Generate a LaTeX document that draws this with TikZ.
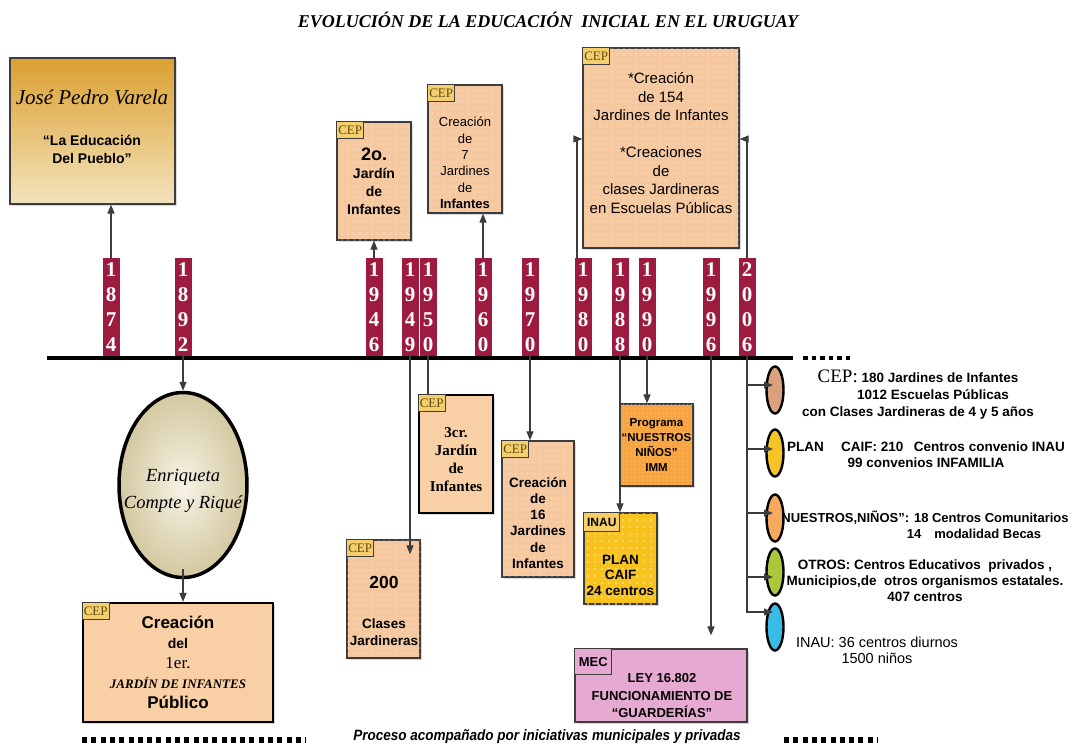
\documentclass[tikz,border=0pt]{standalone}
\usepackage{fontspec}
\setmainfont{Liberation Sans}
\newfontfamily\timesfont{Liberation Serif}
\newfontfamily\narrowfont[FakeStretch=0.9]{Liberation Sans}
\usetikzlibrary{positioning,calc,shapes.geometric,arrows.meta,shadows,patterns.meta}

\definecolor{yearred}{HTML}{9C1B3F}
\definecolor{peach}{HTML}{F6C8A0}
\definecolor{peachlight}{HTML}{F9CFA5}
\definecolor{ceptag}{HTML}{F4CF6C}
\definecolor{cepink}{HTML}{5C4A18}
\definecolor{jpvgold}{HTML}{DBA031}
\definecolor{jpvpale}{HTML}{F3E3BC}
\definecolor{caifgold}{HTML}{F8C21F}
\definecolor{caiftag}{HTML}{F7CF66}
\definecolor{nnorange}{HTML}{F7A543}
\definecolor{mecpink}{HTML}{E6A9D2}
\definecolor{eggin}{HTML}{F7F3E6}
\definecolor{eggout}{HTML}{D3C8A0}
\definecolor{ovtan}{HTML}{D9A27C}
\definecolor{ovyellow}{HTML}{F5C527}
\definecolor{ovorange}{HTML}{F7A95E}
\definecolor{ovgreen}{HTML}{A9C93A}
\definecolor{ovblue}{HTML}{38BCE6}
\definecolor{edgegray}{HTML}{3C3C3C}

\newcommand{\stackdigits}[4]{#1\\#2\\#3\\#4}
\newcommand{\fsize}[2]{\fontsize{#1}{#2}\selectfont}

\begin{document}
\begin{tikzpicture}[x=1pt,y=-1pt,
  yearbar/.style={fill=yearred,text=white,minimum width=17,minimum height=98,inner sep=0pt,anchor=south,align=center,font=\timesfont\bfseries\fsize{21}{25}},
  panel/.style={draw=edgegray,line width=1.3pt,inner sep=0pt,drop shadow={opacity=0.3,shadow xshift=2pt,shadow yshift=-2pt}},
  peachbox/.style={panel,fill=peach,postaction={pattern={Dots[radius=0.7pt,distance=6pt]},pattern color=white!80!peach}},
  plainbox/.style={panel,fill=peachlight,draw=black,line width=2.2pt},
  tagbox/.style={draw=edgegray,line width=0.8pt,fill=ceptag,text=cepink,inner xsep=1.5pt,inner ysep=1pt,minimum height=17,anchor=north west,font=\timesfont\fsize{13}{13}},
  conn/.style={draw=edgegray,line width=1.2pt},
  arr/.style={conn,-{Triangle[length=9pt,width=7pt]}},
  oval/.style={ellipse,draw=black,line width=2.4pt,minimum width=17,minimum height=47,inner sep=0pt},
  txt/.style={align=center,inner sep=0pt},
  dotline/.style={line width=6pt,dash pattern=on 5pt off 4.3pt}]
\useasboundingbox (0,0) rectangle (1073,744);

\node[txt,font=\timesfont\bfseries\itshape\fsize{18}{18}] (title) at (548,20) {EVOLUCIÓN DE LA EDUCACIÓN \ INICIAL EN EL URUGUAY};

\foreach \yr/\xx in {1874/111,1892/183,1946/374,1949/410,1950/428,1960/483,1970/530,1980/583,1988/620,1990/647,1996/711,2006/747}
  \node[yearbar] (y\yr) at (\xx,356) {\expandafter\stackdigits\yr};

\coordinate (tl-a) at (47,358);
\coordinate (tl-b) at (793,358);
\draw[line width=4pt] (tl-a) -- (tl-b);
\draw[line width=4.5pt,dash pattern=on 4.5pt off 4pt] (803,358) -- (852,358);

\node[panel,top color=jpvgold,bottom color=jpvpale,minimum width=165,minimum height=146] (jpv) at (92.5,131) {};
\node[txt,font=\timesfont\itshape\fsize{21}{21}] (jpv-name) at (92,97) {José Pedro Varela};
\node[txt,font=\bfseries\fsize{14}{18}] (jpv-motto) at (92,149) {“La Educación\\Del Pueblo”};

\node[peachbox,txt,minimum width=74,minimum height=118,font=\bfseries\fsize{14}{18}] (jardin2) at (374,181) {{\fsize{18}{18}2o.}\\Jardín\\de\\Infantes};

\node[peachbox,minimum width=74,minimum height=128] (crea7) at (465,149) {};
\node[txt,font=\fsize{13}{16.4}] (crea7-txt) at (465,163) {Creación\\de\\7\\Jardines\\de\\\textbf{Infantes}};

\node[peachbox,minimum width=156,minimum height=200] (cep154) at (661,148) {};
\node[txt,font=\fsize{15}{18.5}] (cep154-txt) at (661,143) {*Creación\\de 154\\Jardines de Infantes\\[18.5pt]*Creaciones\\de\\clases Jardineras\\en Escuelas Públicas};

\draw[arr] (y1874.north) -- (y1874.north |- jpv.south);
\draw[arr] (y1946.north) -- (y1946.north |- jardin2.south);
\draw[arr] (y1960.north) -- (y1960.north |- crea7.south);
\draw[arr] ([xshift=-6pt]y1980.north) |- ([yshift=9pt]cep154.west);
\draw[arr] (y2006.north) |- ([yshift=9pt]cep154.east);

\node[ellipse,draw=black,line width=3.5pt,inner color=eggin,outer color=eggout,minimum width=128,minimum height=185,inner sep=0pt] (egg) at (183,485) {};
\node[txt,font=\timesfont\itshape\fsize{18.5}{27}] (egg-txt) at (183,491) {Enriqueta\\Compte y Riqué};

\node[plainbox,minimum width=190,minimum height=119] (cep1) at (178,662.5) {};
\node[txt,font=\bfseries\fsize{14}{20}] (cep1-txt) at (178,662) {{\fsize{17}{20}Creación}\\del\\{\timesfont\mdseries\fsize{17}{20}1er.}\\{\timesfont\itshape\fsize{13}{20}JARDÍN DE INFANTES}\\{\fsize{17}{20}Público}};

\draw[arr] (y1892.south) -- (egg.north);
\draw[arr] ([yshift=10pt]egg.south) -- (egg.south |- cep1.north);

\node[peachbox,minimum width=73,minimum height=118] (cls200) at (383.5,599) {};
\node[txt,font=\bfseries\fsize{13.5}{17}] (cls200-txt) at (384,611) {{\fsize{17.5}{17}200}\\[23pt]Clases\\Jardineras};
\coordinate (cls200-tip) at ($(y1949.south |- cls200.north)+(0,15)$);
\draw[arr] (y1949.south) -- (cls200-tip);

\node[plainbox,minimum width=74,minimum height=118] (jardin3) at (456,454) {};
\node[txt,font=\timesfont\bfseries\fsize{15}{18}] (jardin3-txt) at (456,460) {3cr.\\Jardín\\de\\Infantes};
\draw[conn] (y1950.south) -- (y1950.south |- jardin3.north);

\node[peachbox,minimum width=72,minimum height=136] (crea16) at (538,509) {};
\node[txt,font=\bfseries\fsize{13.5}{16.2}] (crea16-txt) at (538,523) {Creación\\de\\16\\Jardines\\de\\Infantes};
\draw[arr] (y1970.south) -- (y1970.south |- crea16.north);

\node[panel,fill=caifgold,postaction={pattern={Dots[radius=0.8pt,distance=7pt]},pattern color=white!70!caifgold},minimum width=73,minimum height=91] (inau) at (620.5,558.5) {};
\node[txt,font=\bfseries\fsize{13.5}{15.5}] (inau-txt) at (620.5,575) {PLAN\\CAIF\\24 centros};
\draw[arr] (y1988.south) -- (y1988.south |- inau.north);

\node[panel,txt,fill=nnorange,postaction={pattern={Dots[radius=0.6pt,distance=4pt]},pattern color=white!55!nnorange},minimum width=73,minimum height=82,font=\bfseries\fsize{11.5}{14.7}] (prog) at (656.5,445) {Programa\\“NUESTROS\\NIÑOS”\\IMM};
\draw[arr] (y1990.south) -- (y1990.south |- prog.north);

\node[panel,fill=mecpink,minimum width=172,minimum height=73] (mec) at (661,685.5) {};
\node[txt,font=\bfseries\fsize{13}{17.5}] (mec-txt) at (662,696) {LEY 16.802\\FUNCIONAMIENTO DE\\“GUARDERÍAS”};
\coordinate (mec-tip) at ($(y1996.south |- mec.north)+(0,-13)$);
\draw[arr] (y1996.south) -- (mec-tip);

\foreach \b in {jardin2,crea7,cep154,cep1,cls200,jardin3,crea16}
  \node[tagbox] (\b-tag) at (\b.north west) {CEP};
\node[tagbox,fill=caiftag,text=black,font=\bfseries\fsize{12}{12},minimum width=36,minimum height=19] (inau-tag) at (inau.north west) {INAU};
\node[tagbox,fill=mecpink,text=black,font=\bfseries\fsize{13}{13},minimum width=37,minimum height=26] (mec-tag) at (mec.north west) {MEC};

\foreach \n/\yy/\dy/\cc in {1/390/5/ovtan,2/453/4/ovyellow,3/518/5/ovorange,4/572/-5/ovgreen,5/627/15/ovblue}{
  \node[oval,fill=\cc] (ov\n) at (775,\yy) {};
  \draw[arr] (y2006.south) |- ([xshift=-2pt,yshift=\dy pt]ov\n.center);
}

\node[txt,font=\bfseries\fsize{13.5}{17}] (r-cep) at (918,395) {{\timesfont\mdseries\fsize{19}{17}CEP:} 180 Jardines de Infantes\\\hspace*{30pt}1012 Escuelas Públicas\\con Clases Jardineras de 4 y 5 años};
\node[txt,font=\bfseries\fsize{13.5}{16}] (r-caif) at (926,455) {PLAN\quad\ CAIF: 210\enspace\ Centros convenio INAU\\99 convenios INFAMILIA};
\node[txt,font=\bfseries\fsize{13}{16}] (r-nn) at (925,525) {NUESTROS,NIÑOS": 18 Centros Comunitarios\\\hspace*{98pt}14\quad modalidad Becas};
\node[txt,font=\bfseries\fsize{13.5}{16}] (r-otros) at (925,581) {OTROS: Centros Educativos\ \ privados ,\\Municipios,de\ \ otros organismos estatales.\\407 centros};
\node[txt,font=\fsize{14.5}{16}] (r-inau) at (877,650) {INAU: 36 centros diurnos\\1500 niños};

\draw[dotline] (82,740) -- (306,740);
\node[txt,font=\narrowfont\bfseries\itshape\fsize{15}{15}] (process) at (547,737) {Proceso acompañado por iniciativas municipales y privadas};
\draw[dotline] (784,740) -- (878,740);
\end{tikzpicture}
\end{document}
